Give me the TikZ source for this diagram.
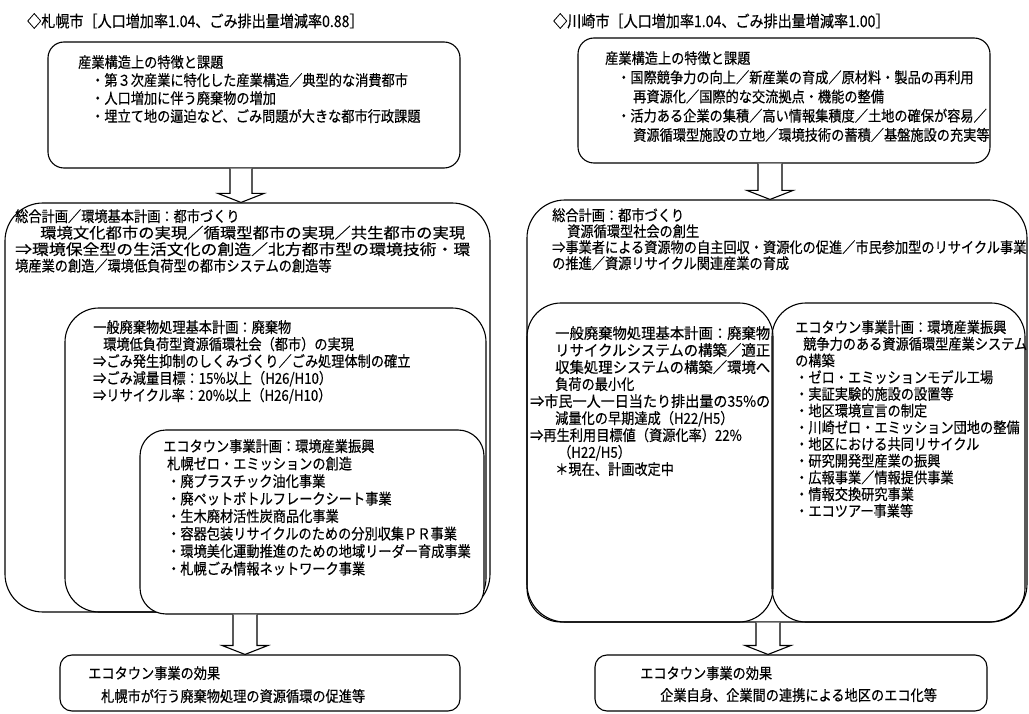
\documentclass[tikz,border=0pt]{standalone}
\usepackage{fontspec}
\usepackage{graphicx}
\newfontfamily\jp[FakeStretch=0.88, FakeBold=0.35]{Noto Sans CJK JP}
\usetikzlibrary{calc,fit}
\newcommand\fw[2]{\resizebox{#1pt}{\height}{#2}}
% block arrow: #1 upper node, #2 lower node, #3 x-coordinate name, #4 shaft half width, #5 head half width
\newcommand\barrow[5]{%
  \draw[arr] ($(#1.south -| #3)+(-#4,0)$) -- ($(#2.north -| #3)+(-#4,-9)$)
    -- ($(#2.north -| #3)+(-#5,-9)$) -- (#2.north -| #3)
    -- ($(#2.north -| #3)+(#5,-9)$) -- ($(#2.north -| #3)+(#4,-9)$)
    -- ($(#1.south -| #3)+(#4,0)$);}
\begin{document}
\begin{tikzpicture}[x=1pt,y=-1pt,
  box/.style={draw, inner sep=0pt, line width=1.1pt},
  txt/.style={anchor=north west, inner sep=0pt, align=left, font=\jp\fontsize{15}{#1}\selectfont},
  txt/.default=17,
  ttl/.style={anchor=west, inner sep=0pt, font=\jp\fontsize{16}{18}\selectfont},
  arr/.style={draw, fill=white, line width=1.1pt, line join=miter}]
\useasboundingbox[fill=white] (0,0) rectangle (1029,714);

% ---------------- left column: Sapporo ----------------
\node[ttl] (T1) at (27,21) {◇札幌市［人口増加率1.04、ごみ排出量増減率0.88］};

\node[box, rounded corners=16pt, fit={(48,42) (460,168)}] (L1) {};
\node[txt=18] (tL1) at (78,55) {産業構造上の特徴と課題\\
\hspace*{13pt}・第３次産業に特化した産業構造／典型的な消費都市\\
\hspace*{13pt}・人口増加に伴う廃棄物の増加\\
\hspace*{13pt}・埋立て地の逼迫など、ごみ問題が大きな都市行政課題};

\node[box, rounded corners=38pt, fit={(5,203) (490,612)}] (L2) {};
\node[txt=16.5] (tL2) at (15,209) {総合計画／環境基本計画：都市づくり\\
\hspace*{25pt}\fw{425}{環境文化都市の実現／循環型都市の実現／共生都市の実現}\\
\fw{455}{⇒環境保全型の生活文化の創造／北方都市型の環境技術・環}\\
境産業の創造／環境低負荷型の都市システムの創造等};

\node[box, rounded corners=34pt, fit={(65,308) (486,612)}] (L3) {};
\node[txt=17] (tL3) at (93,320) {一般廃棄物処理基本計画：廃棄物\\
\hspace*{10pt}環境低負荷型資源循環社会（都市）の実現\\
⇒ごみ発生抑制のしくみづくり／ごみ処理体制の確立\\
⇒ごみ減量目標：15\%以上（H26/H10）\\
⇒リサイクル率：20\%以上（H26/H10）};

\node[box, fill=white, rounded corners=26pt, fit={(140,430) (484,614)}] (L4) {};
\node[txt=17.5] (tL4) at (163,439) {エコタウン事業計画：環境産業振興\\
\hspace*{4pt}札幌ゼロ・エミッションの創造\\
\hspace*{4pt}・廃プラスチック油化事業\\
\hspace*{4pt}・廃ペットボトルフレークシート事業\\
\hspace*{4pt}・生木廃材活性炭商品化事業\\
\hspace*{4pt}・容器包装リサイクルのための分別収集ＰＲ事業\\
\hspace*{4pt}・環境美化運動推進のための地域リーダー育成事業\\
\hspace*{4pt}・札幌ごみ情報ネットワーク事業};

\node[box, rounded corners=12pt, fit={(60,655) (460,711)}] (L5) {};
\node[txt=23] (tL5) at (88,666) {エコタウン事業の効果\\
\hspace*{13pt}札幌市が行う廃棄物処理の資源循環の促進等};

\coordinate (axL1) at (241,0);
\coordinate (axL2) at (245,0);
\barrow{L1}{L2}{axL1}{11}{23}
\barrow{L4}{L5}{axL2}{12}{23}

% ---------------- right column: Kawasaki ----------------
\node[ttl] (T2) at (553,21) {◇川崎市［人口増加率1.04、ごみ排出量増減率1.00］};

\node[box, rounded corners=16pt, fit={(578,38) (990,163)}] (R1) {};
\node[txt=19.2] (tR1) at (605,51) {産業構造上の特徴と課題\\
\hspace*{12pt}・国際競争力の向上／新産業の育成／原材料・製品の再利用\\
\hspace*{28pt}再資源化／国際的な交流拠点・機能の整備\\
\hspace*{12pt}・活力ある企業の集積／高い情報集積度／土地の確保が容易／\\
\hspace*{28pt}資源循環型施設の立地／環境技術の蓄積／基盤施設の充実等};

\node[box, rounded corners=38pt, fit={(527,200) (1027,622)}] (R2) {};
\node[txt=16] (tR2) at (552,208) {総合計画：都市づくり\\
\hspace*{15pt}資源循環型社会の創生\\
⇒事業者による資源物の自主回収・資源化の促進／市民参加型のリサイクル事業\\
の推進／資源リサイクル関連産業の育成};

\node[box, rounded corners=34pt, fit={(527,303) (773,622)}] (R3) {};
\node[txt=17] (tR3) at (530,326) {\hspace*{25pt}\fw{215}{一般廃棄物処理基本計画：廃棄物}\\
\hspace*{25pt}\fw{215}{リサイクルシステムの構築／適正}\\
\hspace*{25pt}\fw{215}{収集処理システムの構築／環境へ}\\
\hspace*{25pt}負荷の最小化\\
\fw{240}{⇒市民一人一日当たり排出量の35\%の}\\
\hspace*{25pt}減量化の早期達成（H22/H5）\\
⇒再生利用目標値（資源化率）22\%\\
\hspace*{28pt}（H22/H5）\\
\hspace*{25pt}＊現在、計画改定中};

\node[box, rounded corners=34pt, fit={(772,303) (1025,622)}] (R4) {};
\node[txt=16.7] (tR4) at (795,320) {エコタウン事業計画：環境産業振興\\
\hspace*{8pt}競争力のある資源循環型産業システム\\
の構築\\
・ゼロ・エミッションモデル工場\\
・実証実験的施設の設置等\\
・地区環境宣言の制定\\
・川崎ゼロ・エミッション団地の整備\\
・地区における共同リサイクル\\
・研究開発型産業の振興\\
・広報事業／情報提供事業\\
・情報交換研究事業\\
・エコツアー事業等};

\node[box, rounded corners=12pt, fit={(595,655) (987,711)}] (R5) {};
\node[txt=22] (tR5) at (640,666) {エコタウン事業の効果\\
\hspace*{20pt}企業自身、企業間の連携による地区のエコ化等};

\coordinate (axR1) at (770,0);
\coordinate (axR2) at (768,0);
\barrow{R1}{R2}{axR1}{12}{23}
\barrow{R2}{R5}{axR2}{12}{23}
\end{tikzpicture}
\end{document}
